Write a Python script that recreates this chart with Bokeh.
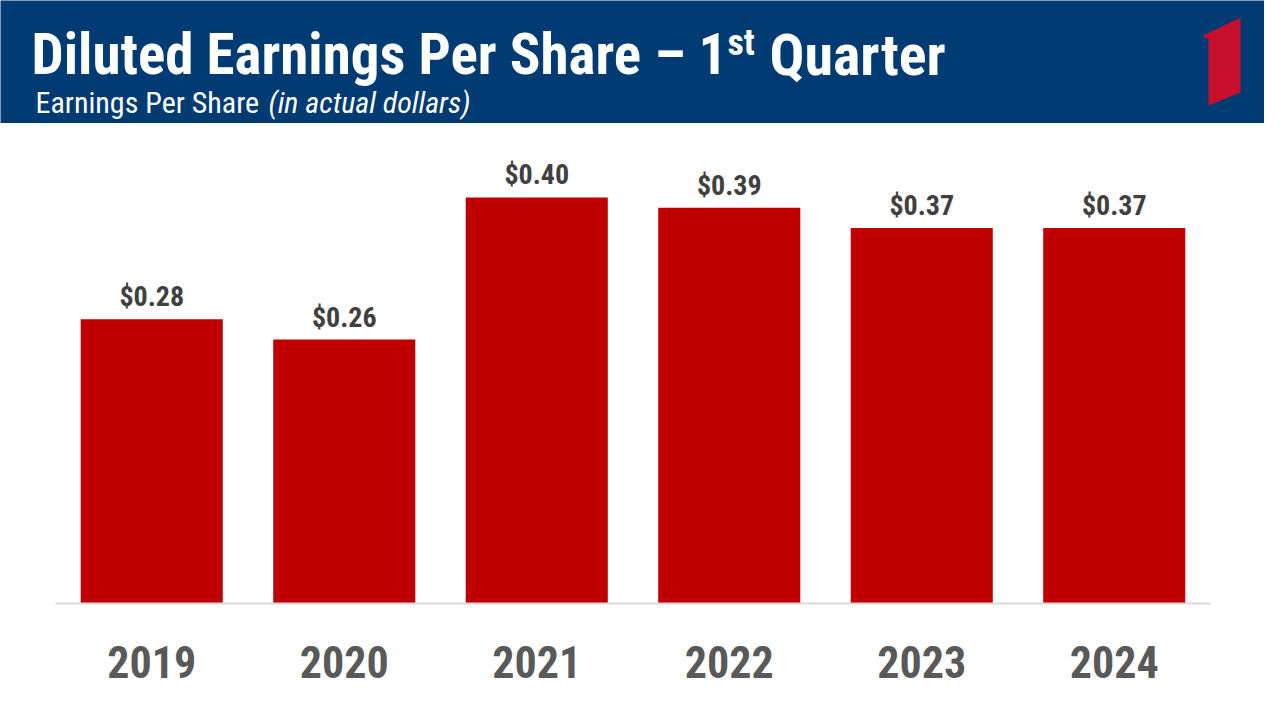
from bokeh.plotting import figure
from bokeh.models import Range1d, FactorRange, Label, ColumnDataSource
from bokeh.layouts import column
from bokeh.core.properties import value
from bokeh.embed import file_html
from bokeh.resources import INLINE

# ---- data ----
years = ["2019", "2020", "2021", "2022", "2023", "2024"]
eps = [0.28, 0.26, 0.40, 0.39, 0.37, 0.37]
eps_labels = ["$0.28", "$0.26", "$0.40", "$0.39", "$0.37", "$0.37"]

title_main = "Diluted Earnings Per Share \u2013 1"
title_sup = "st"
title_end = "Quarter"
subtitle_plain = "Earnings Per Share"
subtitle_italic = "(in actual dollars)"

FONT = "Roboto Condensed"
BLUE = "#003b73"
RED = "#c00000"

W = 1264
H_HDR = 123
H_CHART = 574

# ---- header ----
hdr = figure(width=W, height=H_HDR, x_range=Range1d(0, W), y_range=Range1d(H_HDR, 0),
             output_backend="svg", toolbar_location=None, min_border=0,
             x_axis_type=None, y_axis_type=None)
hdr.frame_align = False
hdr.background_fill_color = BLUE
hdr.border_fill_color = BLUE
hdr.outline_line_color = None
hdr.grid.visible = False

hdr.add_layout(Label(x=31, y=54, text=title_main, text_color="white", text_font=FONT,
                     text_font_size="57px", text_font_style="bold", text_baseline="alphabetic"))
hdr.add_layout(Label(x=727, y=42, text=title_sup, text_color="white", text_font=FONT,
                     text_font_size="36px", text_font_style="bold", text_baseline="alphabetic"))
hdr.add_layout(Label(x=769, y=54, text=title_end, text_color="white", text_font=FONT,
                     text_font_size="58px", text_font_style="bold", text_baseline="alphabetic"))
hdr.add_layout(Label(x=35, y=102, text=subtitle_plain, text_color="white", text_font=FONT,
                     text_font_size="30px", text_baseline="alphabetic"))
hdr.add_layout(Label(x=268, y=102, text=subtitle_italic, text_color="white", text_font=FONT,
                     text_font_size="30px", text_font_style="italic", text_baseline="alphabetic"))

# logo
hdr.patch([1203, 1240, 1240, 1208, 1208, 1203], [35, 17, 92, 105, 38, 37],
          fill_color="#c8102e", line_color=None)

# ---- chart ----
p = figure(width=W, height=H_CHART, x_range=FactorRange(*years), y_range=Range1d(0, 0.4729),
           output_backend="svg", toolbar_location=None,
           min_border_left=55, min_border_right=54, min_border_top=0, min_border_bottom=94)
p.frame_align = False
p.outline_line_color = None
p.grid.visible = False
p.yaxis.visible = False

src = ColumnDataSource(dict(x=years, top=eps, lab=eps_labels))
p.vbar(x="x", top="top", width=0.738, source=src, fill_color=RED, line_color=None)
p.text(x="x", y="top", text="lab", source=src, text_align="center", text_baseline="bottom",
       y_offset=-6, text_font=value(FONT), text_font_size="28px", text_font_style="bold",
       text_color="#404040")

xa = p.xaxis[0]
xa.axis_line_color = "#d9d9d9"
xa.axis_line_width = 2
xa.major_tick_line_color = None
xa.minor_tick_line_color = None
xa.major_label_text_font = FONT
xa.major_label_text_font_size = "44px"
xa.major_label_text_font_style = "bold"
xa.major_label_text_color = "#595959"
xa.major_label_standoff = 36

layout = column(hdr, p, spacing=0)
open("out.html", "w").write(file_html(layout, INLINE))
